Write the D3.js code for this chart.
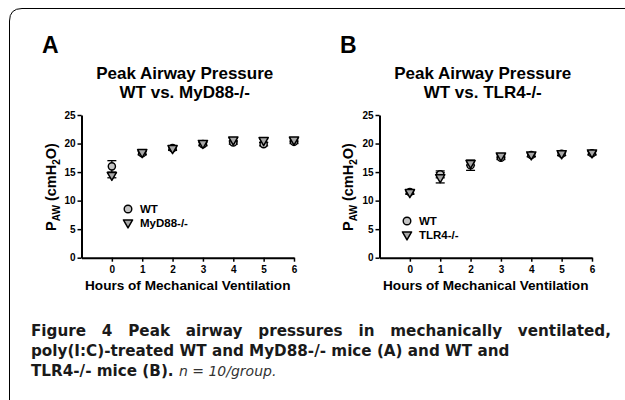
<!DOCTYPE html>
<html>
<head>
<meta charset="utf-8">
<script src="https://cdn.jsdelivr.net/npm/d3@7"></script>
<style>
  body { margin: 0; background: #fff; }
  svg { display: block; }
</style>
</head>
<body>
<div id="chart"></div>
<script>
// Peak airway pressure data

const hours = [0, 1, 2, 3, 4, 5, 6];
const yTicks = [0, 5, 10, 15, 20, 25];

// Panel A: WT vs. MyD88-/-
const wtA = [16.0, 18.3, 19.2, 19.9, 20.2, 19.9, 20.3];
const wtA_sem = [1.0, 0.3, 0.3, 0.3, 0.3, 0.3, 0.3];
const myd88 = [14.4, 18.4, 19.1, 20.0, 20.6, 20.5, 20.6];
const myd88_sem = [0.4, 0.3, 0.3, 0.3, 0.3, 0.3, 0.3];

// Panel B: WT vs. TLR4-/-
const wtB = [11.5, 14.6, 16.2, 17.5, 18.0, 18.2, 18.3];
const wtB_sem = [0.3, 0.6, 0.9, 0.3, 0.3, 0.3, 0.3];
const tlr4 = [11.4, 14.0, 16.5, 17.8, 18.0, 18.2, 18.35];
const tlr4_sem = [0.3, 0.9, 0.3, 0.3, 0.3, 0.3, 0.3];

const svg = d3.select('#chart')
  .append('svg')
  .attr('width', 625)
  .attr('height', 400);

svg.append('rect').attr('width', 625).attr('height', 400).attr('fill', '#fff');

// rounded frame, top and left
svg.append('path')
  .attr('d', 'M9.5,400 V21 Q9.5,8.5 22,8.5 H625')
  .attr('fill', 'none')
  .attr('stroke', '#000')
  .attr('stroke-width', 1);

const chartFont = '"Liberation Sans", Arial, sans-serif';

function trianglePath(cx, cy) {
  const w = 4.6, h = 8;
  return `M${cx - w},${cy - h / 2.6} L${cx + w},${cy - h / 2.6} L${cx},${cy + h * 0.62} Z`;
}

function DrawPanel(cfg) {
  const g = svg.append('g');

  const x = d3.scaleLinear().domain([-1, 6]).range(cfg.xRange);
  const y = d3.scaleLinear().domain([0, 25]).range([257.7, 115]);
  const cx = (cfg.xRange[0] + cfg.xRange[1]) / 2;

  // Panel letter
  g.append('text')
    .attr('x', cfg.letterX)
    .attr('y', 53)
    .style('font', `bold 23px ${chartFont}`)
    .text(cfg.letter);

  // Title (two lines in one text)
  const title = g.append('text')
    .attr('y', 78.5)
    .attr('text-anchor', 'middle')
    .style('font', `bold 17px ${chartFont}`);
  title.append('tspan').attr('x', cx - 3).text('Peak Airway Pressure');
  title.append('tspan').attr('x', cx - 3).attr('dy', 19.6).text(cfg.subtitle);

  // Y axis
  const yAxis = g.append('g')
    .attr('transform', `translate(${cfg.xRange[0]},0)`)
    .call(d3.axisLeft(y).tickValues(yTicks).tickSize(4).tickSizeOuter(0).tickPadding(2));
  // X axis
  const xAxis = g.append('g')
    .attr('transform', `translate(0,${y(0)})`)
    .call(d3.axisBottom(x).tickValues(hours).tickFormat(d3.format('d'))
      .tickSize(4).tickSizeOuter(0).tickPadding(4));

  [yAxis, xAxis].forEach((ax) => {
    ax.select('.domain').attr('stroke-width', 2);
    ax.selectAll('.tick line').attr('stroke-width', 1.5);
    ax.selectAll('.tick text')
      .attr('fill', '#000')
      .style('font', `bold 10px ${chartFont}`);
  });

  // Axis titles
  g.append('text')
    .attr('x', cx)
    .attr('y', 290)
    .attr('text-anchor', 'middle')
    .style('font', `bold 13.6px ${chartFont}`)
    .text('Hours of Mechanical Ventilation');

  const ylab = g.append('text')
    .attr('transform', `translate(${cfg.yLabelX},187) rotate(-90)`)
    .attr('text-anchor', 'middle')
    .style('font', `bold 14.5px ${chartFont}`);
  ylab.append('tspan').text('P');
  ylab.append('tspan').attr('dy', 3.5).style('font-size', '10px').text('AW');
  ylab.append('tspan').attr('dy', -3.5).text(' (cmH');
  ylab.append('tspan').attr('dy', 3.5).style('font-size', '10px').text('2');
  ylab.append('tspan').attr('dy', -3.5).text('O)');

  // Error bars
  const series = [
    { vals: cfg.wt, sem: cfg.wtSem },
    { vals: cfg.ko, sem: cfg.koSem },
  ];
  series.forEach((s) => {
    const eb = g.append('g').attr('stroke', '#000').attr('stroke-width', 1.3);
    eb.selectAll('line.v')
      .data(hours)
      .enter()
      .append('line')
      .attr('x1', (d) => x(d))
      .attr('x2', (d) => x(d))
      .attr('y1', (d, i) => y(s.vals[i] - s.sem[i]))
      .attr('y2', (d, i) => y(s.vals[i] + s.sem[i]));
    [1, -1].forEach((sign) => {
      eb.selectAll(null)
        .data(hours)
        .enter()
        .append('line')
        .attr('x1', (d) => x(d) - 4.5)
        .attr('x2', (d) => x(d) + 4.5)
        .attr('y1', (d, i) => y(s.vals[i] + sign * s.sem[i]))
        .attr('y2', (d, i) => y(s.vals[i] + sign * s.sem[i]));
    });
  });

  // WT circles
  g.selectAll('circle.wt')
    .data(hours)
    .enter()
    .append('circle')
    .attr('cx', (d) => x(d))
    .attr('cy', (d, i) => y(cfg.wt[i]))
    .attr('r', 3.6)
    .attr('fill', '#c4c4c4')
    .attr('stroke', '#000')
    .attr('stroke-width', 1.4);

  // Knockout triangles
  g.selectAll('path.ko')
    .data(hours)
    .enter()
    .append('path')
    .attr('d', (d, i) => trianglePath(x(d), y(cfg.ko[i])))
    .attr('fill', '#a8a8a8')
    .attr('stroke', '#000')
    .attr('stroke-width', 1.5)
    .attr('stroke-linejoin', 'round');

  // Legend
  const leg = g.append('g');
  leg.append('circle')
    .attr('cx', cfg.legX)
    .attr('cy', cfg.legY)
    .attr('r', 3.8)
    .attr('fill', '#c4c4c4')
    .attr('stroke', '#000')
    .attr('stroke-width', 1.4);
  leg.append('path')
    .attr('d', trianglePath(cfg.legX, cfg.legY + 14))
    .attr('fill', '#a8a8a8')
    .attr('stroke', '#000')
    .attr('stroke-width', 1.5)
    .attr('stroke-linejoin', 'round');
  leg.append('text')
    .attr('x', cfg.legX + 12)
    .attr('y', cfg.legY + 4)
    .style('font', `bold 11.5px ${chartFont}`)
    .text('WT');
  leg.append('text')
    .attr('x', cfg.legX + 12)
    .attr('y', cfg.legY + 18)
    .style('font', `bold 11.5px ${chartFont}`)
    .text(cfg.koName);
}

DrawPanel({
  letter: 'A',
  letterX: 42,
  subtitle: 'WT vs. MyD88-/-',
  xRange: [81.5, 294],
  yLabelX: 56,
  wt: wtA,
  wtSem: wtA_sem,
  ko: myd88,
  koSem: myd88_sem,
  koName: 'MyD88-/-',
  legX: 128,
  legY: 209,
});

DrawPanel({
  letter: 'B',
  letterX: 340,
  subtitle: 'WT vs. TLR4-/-',
  xRange: [379.5, 592],
  yLabelX: 353,
  wt: wtB,
  wtSem: wtB_sem,
  ko: tlr4,
  koSem: tlr4_sem,
  koName: 'TLR4-/-',
  legX: 407,
  legY: 221,
});

// Caption: one text, three lines; first line justified with word spacing
const capFont = '"DejaVu Sans", sans-serif';
const cap = svg.append('text')
  .attr('y', 336)
  .style('font-family', capFont)
  .style('font-size', '15.2px')
  .attr('fill', '#1a1a1a');
const line1 = cap.append('tspan')
  .attr('x', 31)
  .style('font-weight', 'bold')
  .text('Figure 4 Peak airway pressures in mechanically ventilated,');
const natural = line1.node().getComputedTextLength();
const gaps = line1.text().split(' ').length - 1;
if (natural < 580) line1.style('word-spacing', `${(580 - natural) / gaps}px`);

cap.append('tspan')
  .attr('x', 31)
  .attr('dy', 20)
  .style('font-weight', 'bold')
  .text('poly(I:C)-treated WT and MyD88-/- mice (A) and WT and');
cap.append('tspan')
  .attr('x', 31)
  .attr('dy', 20)
  .style('font-weight', 'bold')
  .text('TLR4-/- mice (B)');
cap.append('tspan').style('font-weight', 'bold').text('. ');
cap.append('tspan')
  .style('font-style', 'italic')
  .style('font-size', '14px')
  .attr('fill', '#333')
  .text('n = 10/group.');
</script>
</body>
</html>
